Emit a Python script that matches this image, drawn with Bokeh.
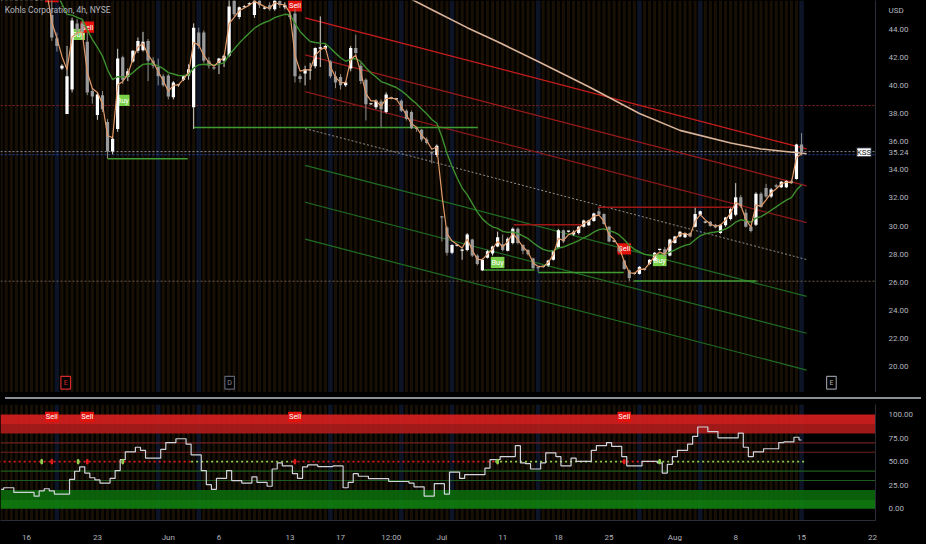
import numpy as np
from bokeh.plotting import figure
from bokeh.models import (Range1d, ColumnDataSource, Label, Div, FixedTicker,
                          PrintfTickFormatter)
from bokeh.layouts import column
from bokeh.embed import file_html
from bokeh.resources import INLINE
from bokeh.core.properties import value

# ---------------- data (4h bars, bar index starts at FIRST_IDX) ----------------
FIRST_IDX = -10
open_ = [48.5, 49.0, 48.6, 48.2, 48.7, 48.1, 47.5, 46.4, 47.1, 46.9,
         45.0, 43.35, 41.2, 37.96, 39.7, 44.4, 44.4, 43.1, 39.6, 37.9,
         39.3, 37.4, 35.3, 36.9, 42.0, 40.6, 41.7, 42.45, 42.5, 43.15,
         41.75, 41.3, 40.65, 40.7, 39.15, 40.0, 40.4, 40.7, 38.45, 43.75,
         43.75, 41.75, 41.25, 41.6, 41.75, 42.1, 46.2, 44.85, 45.55, 45.75,
         45.0, 46.3, 45.45, 45.7, 45.4, 46.0, 45.55, 45.0, 45.1, 40.65,
         40.85, 41.05, 41.35, 42.6, 42.6, 41.7, 40.65, 40.6, 40.0, 41.2,
         42.65, 41.4, 40.4, 38.65, 38.45, 38.85, 38.1, 39.15, 39.0, 38.9,
         38.2, 38.1, 36.95, 36.85, 36.15, 35.25, 35.05, 30.7, 29.9, 28.1,
         28.6, 28.25, 28.3, 29.05, 27.9, 26.85, 27.75, 28.05, 28.55, 28.7,
         28.25, 28.8, 29.8, 28.65, 28.3, 27.7, 27.05, 27.1, 27.2, 27.6,
         28.45, 29.7, 29.6, 29.4, 29.5, 29.95, 30.05, 30.35, 31.05, 30.85,
         29.95, 28.9, 28.5, 27.55, 26.85, 26.6, 26.6, 26.9, 27.3, 27.55,
         28.3, 28.35, 27.9, 28.8, 29.25, 29.2, 29.5, 29.95, 30.8, 30.25,
         30.3, 30.1, 29.5, 30.05, 30.5, 30.8, 32.05, 30.95, 29.95, 30.1,
         32.3, 32.7, 32.1, 32.9, 32.75, 32.75, 33.2, 33.35, 35.8]
high_ = [49.3, 49.8, 49.0, 48.9, 49.1, 48.4, 47.9, 47.3, 47.6, 47.4,
         46.5, 43.75, 41.5, 42.8, 44.8, 44.7, 44.6, 43.75, 39.8, 39.5,
         39.6, 37.6, 36.4, 42.6, 42.1, 41.2, 42.5, 43.4, 43.8, 43.3,
         42.0, 41.9, 40.8, 40.8, 40.3, 40.1, 40.7, 41.5, 44.4, 44.1,
         43.9, 42.0, 41.3, 41.95, 42.2, 46.2, 46.5, 45.6, 45.7, 45.9,
         46.5, 46.5, 45.6, 45.9, 46.4, 46.2, 45.9, 45.3, 45.4, 40.8,
         41.4, 41.6, 42.7, 44.9, 42.9, 41.8, 41.0, 40.8, 40.3, 42.8,
         43.6, 41.6, 40.5, 38.7, 39.0, 39.0, 39.5, 39.2, 39.05, 39.0,
         38.3, 38.2, 37.0, 36.9, 36.3, 35.3, 35.8, 30.7, 30.0, 28.7,
         28.65, 28.4, 29.5, 29.1, 28.0, 27.7, 28.3, 28.6, 29.6, 29.4,
         29.2, 29.9, 29.9, 28.7, 28.35, 27.75, 27.1, 27.15, 27.6, 28.3,
         29.8, 29.75, 29.65, 29.7, 30.0, 30.45, 30.45, 30.95, 31.3, 30.9,
         30.0, 28.95, 28.6, 27.6, 26.9, 26.65, 27.15, 26.95, 27.65, 28.15,
         28.35, 28.5, 29.1, 29.3, 29.65, 29.55, 29.55, 31.3, 31.1, 30.3,
         30.35, 30.15, 30.15, 30.65, 31.3, 33.05, 32.2, 31.2, 30.0, 32.4,
         32.4, 33.0, 32.7, 33.0, 33.2, 33.25, 33.3, 35.85, 36.6]
low_ = [48.0, 48.4, 47.8, 47.6, 47.9, 47.2, 46.8, 46.0, 46.6, 46.3,
        43.16, 42.4, 41.1, 37.96, 39.5, 43.6, 43.6, 39.3, 38.7, 37.55,
        38.1, 34.8, 35.1, 36.7, 40.1, 40.3, 41.6, 42.3, 42.4, 40.3,
        41.2, 40.0, 39.9, 39.0, 39.0, 39.9, 40.3, 40.4, 36.9, 42.6,
        41.6, 41.2, 41.1, 40.8, 41.3, 42.0, 44.9, 44.7, 45.5, 45.7,
        44.8, 45.5, 45.4, 45.3, 45.3, 45.5, 45.4, 44.7, 40.2, 40.2,
        40.0, 40.4, 41.2, 41.3, 42.5, 40.5, 39.8, 39.7, 39.9, 41.0,
        42.0, 40.1, 37.5, 38.6, 38.3, 37.0, 38.0, 39.0, 38.95, 38.1,
        37.5, 36.9, 36.7, 36.0, 35.8, 34.45, 34.9, 28.9, 27.9, 28.0,
        28.55, 27.6, 28.2, 27.8, 27.2, 26.8, 27.7, 27.9, 28.5, 28.2,
        28.2, 28.7, 28.7, 28.0, 27.9, 26.95, 26.75, 27.05, 27.1, 27.55,
        28.4, 28.8, 29.55, 29.3, 29.4, 29.9, 30.0, 30.3, 30.75, 30.1,
        28.85, 28.85, 28.1, 26.9, 26.1, 26.55, 26.55, 26.85, 27.25, 27.5,
        28.25, 27.85, 27.85, 28.75, 29.2, 29.15, 29.2, 29.9, 30.7, 30.2,
        29.95, 29.85, 29.45, 29.95, 30.4, 30.7, 31.3, 29.9, 29.55, 30.0,
        31.3, 32.0, 32.0, 32.7, 32.7, 32.7, 33.0, 33.3, 35.0]
close_ = [49.0, 48.6, 48.2, 48.7, 48.1, 47.5, 47.0, 47.1, 46.9, 46.5,
          43.4, 42.8, 41.4, 40.65, 44.6, 43.9, 43.8, 39.5, 39.2, 39.35,
          38.3, 35.3, 36.2, 41.9, 40.4, 41.0, 42.45, 43.15, 43.1, 41.75,
          41.4, 40.65, 40.0, 39.2, 40.2, 40.05, 40.65, 41.15, 44.1, 42.8,
          41.75, 41.4, 41.2, 41.9, 42.1, 45.6, 45.05, 45.55, 45.6, 45.8,
          46.1, 45.7, 45.5, 45.4, 46.1, 45.7, 45.7, 44.85, 40.65, 40.45,
          41.15, 41.1, 42.65, 42.7, 42.8, 40.65, 40.2, 40.0, 40.2, 42.65,
          42.3, 40.3, 38.65, 38.65, 38.9, 38.3, 39.35, 39.1, 39.0, 38.2,
          37.6, 36.95, 36.9, 36.15, 35.9, 35.15, 35.7, 30.6, 28.1, 28.65,
          28.6, 28.3, 29.4, 27.9, 27.3, 27.6, 28.2, 28.55, 29.2, 28.3,
          29.1, 29.8, 28.8, 28.25, 28.0, 27.0, 27.0, 27.1, 27.55, 28.25,
          29.7, 28.9, 29.6, 29.6, 29.95, 30.4, 30.4, 30.9, 30.8, 30.15,
          28.9, 28.9, 28.2, 26.95, 26.3, 26.6, 27.1, 26.9, 27.6, 28.1,
          28.3, 27.9, 29.05, 29.25, 29.6, 29.5, 29.25, 30.85, 31.05, 30.25,
          30.0, 29.9, 30.1, 30.6, 31.2, 32.05, 31.4, 29.95, 29.65, 32.3,
          31.35, 32.1, 32.6, 32.8, 33.15, 33.2, 33.05, 35.8, 35.24]

# long moving average (read at a few bars)
ma_long_idx = [70, 76, 82, 88, 96, 106, 116, 124, 134, 140, 149]
ma_long_val = [46.3, 45.2, 44.1, 43.1, 41.7, 39.9, 38.0, 36.8, 35.9, 35.48, 35.14]

# regression channel
chan_idx = [50, 149]
chan_mid = [36.93, 27.62]
chan_dev = 2.62

# pivot levels (start bar, end bar, price)
sup_x0 = [11, 28, 85.3, 96, 114.9]
sup_x1 = [26.8, 84.1, 95.3, 112.9, 139.1]
sup_p = [34.79, 37.0, 26.87, 26.7, 26.1]
res_x0 = [91.2, 107.8]
res_x1 = [104.5, 135.5]
res_p = [30.1, 31.34]

# full-width levels
lvl_red = 38.56
lvl_brown = 26.08
last_price = 35.24
usd_level = 45.34

# signals
sig_idx = [-2, 0, 5.2, 7, 14, 48, 88, 113, 120]
sig_type = ["Buy", "Sell", "Buy", "Sell", "Buy", "Sell", "Buy", "Sell", "Buy"]
sig_price = [47.0, 46.3, 43.62, 44.14, 38.93, 45.65, 27.41, 28.38, 27.55]

# events
ev_idx = [2.75, 35.1, 153.9]
ev_txt = ["E", "D", "E"]

# bars with a dark-blue session background
navy_idx = [1, 21, 29, 55, 69, 79, 96, 116, 128, 148]

# oscillator (one value per bar)
osc = [20.6, 22.3, 22.3, 17.3, 17.3, 17.3, 17.3, 13.3, 18.9, 21.2,
       19.0, 15.6, 15.6, 15.6, 31.2, 39.8, 44.5, 37.9, 32.9, 30.6,
       27.3, 27.3, 32.2, 40.5, 52.1, 60.4, 60.4, 65.3, 62.0, 53.7,
       53.7, 53.7, 63.0, 70.3, 70.3, 74.3, 74.3, 68.6, 57.1, 57.1,
       40.5, 25.6, 20.6, 32.2, 32.2, 40.5, 29.9, 29.9, 27.3, 27.3,
       33.9, 27.9, 27.9, 23.9, 42.2, 48.8, 45.5, 45.5, 37.2, 32.2,
       44.5, 46.5, 46.5, 44.8, 44.8, 44.8, 45.5, 45.5, 22.3, 27.9,
       37.2, 34.5, 34.5, 31.9, 31.9, 31.9, 31.9, 28.9, 28.9, 28.9,
       28.9, 27.3, 23.3, 23.3, 13.3, 13.3, 26.6, 26.6, 15.6, 38.8,
       38.8, 32.2, 36.2, 36.2, 36.2, 36.2, 43.1, 52.1, 52.1, 55.4,
       55.4, 55.4, 67.0, 48.8, 47.8, 42.2, 42.2, 48.8, 59.4, 59.4,
       55.4, 45.5, 45.5, 53.7, 50.4, 50.4, 50.4, 62.0, 67.0, 67.0,
       70.3, 66.3, 66.3, 55.4, 45.5, 45.5, 45.5, 50.4, 50.4, 50.4,
       48.8, 37.9, 47.2, 55.4, 62.0, 62.0, 68.6, 76.9, 86.8, 86.8,
       81.9, 81.9, 75.3, 75.3, 75.3, 75.3, 80.2, 65.3, 55.4, 60.4,
       60.4, 63.7, 63.7, 63.7, 70.3, 71.0, 71.0, 75.9, 73.0]
# state of the middle dotted line: (first bar, last bar, state)
mid_runs = [(-10, 27, "sell"), (28, 47, "buy"), (48, 87, "sell"),
            (88, 112, "buy"), (113, 119, "sell"), (120, 148, "buy")]

x_ticks = [-5, 9, 23, 33, 47, 57, 67, 77, 89, 100, 110, 123, 135, 148, 162]
x_labels = ["16", "23", "Jun", "6", "13", "17", "12:00", "Jul", "11", "18",
            "25", "Aug", "8", "15", "22"]
price_ticks = [20, 22, 24, 26, 28, 30, 32, 34, 36, 38, 40, 42, 44]
osc_ticks = [0, 25, 50, 75, 100]

# ---------------- derived ----------------
n = len(close_)
idx = np.arange(FIRST_IDX, FIRST_IDX + n)
assert len(open_) == n and len(high_) == n and len(low_) == n and len(osc) == n


def ema(vals, length):
    a = 2.0 / (length + 1)
    out, e = [], vals[0]
    for v in vals:
        e = e + a * (v - e)
        out.append(e)
    return out


ema_fast = ema(close_, 2)
ema_slow = ema(close_, 13)

X0, X1 = -10.13, 162.6
Y0, Y1 = 18.17, 46.03
FONT = "Roboto"
AX_COL = "#b2b5be"
W = 916
MAIN_H = 392
OSC_H = 140
STRIPE = "#181005"
NAVY = "#0c1426"
UP = "#ffffff"
DOWN = "#9a9a9a"


def style(p):
    p.background_fill_color = "#000000"
    p.border_fill_color = "#000000"
    p.outline_line_color = None
    p.grid.visible = False
    p.min_border_left = 0
    p.min_border_top = 0
    p.min_border_right = 33
    ax = p.yaxis[0]
    ax.major_label_text_color = AX_COL
    ax.major_label_text_font = FONT
    ax.major_label_text_font_size = "8px"
    ax.axis_line_color = "#2a2e39"
    ax.major_tick_line_color = None
    ax.minor_tick_line_color = None
    ax.major_label_standoff = 7
    ax.formatter = PrintfTickFormatter(format="%.2f")


def stripes(p, lo, hi):
    p.vbar(x=idx, width=0.6, bottom=lo, top=hi, color=STRIPE, line_color=None)
    p.vbar(x=navy_idx, width=0.9, bottom=lo, top=hi, color=NAVY, line_color=None)


# ---------------- main price panel ----------------
p = figure(width=W, height=MAIN_H, x_range=Range1d(X0, X1),
           y_range=Range1d(Y0, Y1), y_axis_location="right",
           toolbar_location=None, output_backend="svg", tools="")
style(p)
p.xaxis.visible = False
p.min_border_bottom = 0
p.yaxis[0].ticker = FixedTicker(ticks=price_ticks + [last_price, usd_level])
p.yaxis[0].major_label_overrides = {last_price: "35.24", usd_level: "USD"}
stripes(p, 10, 60)

# full width dotted levels
p.line([X0, X1], [lvl_red, lvl_red], line_color="#8f2626", line_dash="2 2", line_width=1)
p.line([X0, X1], [lvl_brown, lvl_brown], line_color="#6e5b4c", line_dash="2 2", line_width=1)
p.line([X0, X1], [last_price + 0.05, last_price + 0.05], line_color="#8c8f99", line_dash="2 2", line_width=1)
p.line([X0, X1], [last_price - 0.17, last_price - 0.17], line_color="#2949a8", line_dash="2 2", line_width=1)

# regression channel
chan_cols = ["#cc1d1d", "#9c1a1a", "#8a1919", None, "#1f6e22", "#1f6e22", "#1f6e22"]
for k, col in zip([3, 2, 1, 0, -1, -2, -3], chan_cols):
    ys = [m + k * chan_dev for m in chan_mid]
    if k == 0:
        p.line(chan_idx, ys, line_color="#8f8f8f", line_dash="2 2", line_width=1)
    else:
        p.line(chan_idx, ys, line_color=col, line_width=1.2)

# pivot level segments
p.segment(x0=sup_x0, x1=sup_x1, y0=sup_p, y1=sup_p, line_color="#3f9b33", line_width=1.5)
p.segment(x0=res_x0, x1=res_x1, y0=res_p, y1=res_p, line_color="#a01616", line_width=1.5)

# buy / sell labels (text only where the tag lies inside the view)
lab_col = ["#7bd04a" if t == "Buy" else "#e3120b" for t in sig_type]
p.rect(x=sig_idx, y=sig_price, width=2.7, height=0.8, fill_color=lab_col, line_color=None)
vis = [i for i, y in enumerate(sig_price) if y + 0.3 < Y1]
p.text(x=[sig_idx[i] for i in vis], y=[sig_price[i] for i in vis],
       text=[sig_type[i] for i in vis], text_align="center", text_baseline="middle",
       text_color="#ffffff", text_font=value(FONT), text_font_size="7.5px")

# candles
dirs = [c >= o for o, c in zip(open_, close_)]
cols = [UP if d else DOWN for d in dirs]
wcols = ["#cfcfcf" if d else "#8a8a8a" for d in dirs]
tops = [max(o, c) for o, c in zip(open_, close_)]
bots = [min(o, c) for o, c in zip(open_, close_)]
tops = [t if t - b >= 0.08 else b + 0.08 for t, b in zip(tops, bots)]
csrc = ColumnDataSource(dict(x=idx, h=high_, l=low_, t=tops, b=bots, c=cols, w=wcols))
p.segment(x0="x", x1="x", y0="l", y1="h", line_color="w", line_width=1, source=csrc)
p.vbar(x="x", width=0.64, top="t", bottom="b", fill_color="c", line_color=None, source=csrc)

# moving averages
p.line(idx, ema_slow, line_color="#3c8f2e", line_width=1.4)
p.line(idx, ema_fast, line_color="#e09a6a", line_width=1.2)
p.line(ma_long_idx, ma_long_val, line_color="#d9b39a", line_width=1.6)

# events
p.rect(x=ev_idx, y=[18.86] * 3, width=1.9, height=0.9, fill_color="#000000",
       line_color=["#d42a2a", "#5d6270", "#8d9099"], line_width=1.2)
p.text(x=ev_idx, y=[18.86] * 3, text=ev_txt, text_align="center", text_baseline="middle",
       text_color=["#d42a2a", "#8d9099", "#b2b5be"], text_font=value(FONT), text_font_size="7px")

# texts
p.add_layout(Label(x=-9.3, y=45.34, text="Kohls Corporation, 4h, NYSE", text_color=AX_COL,
                   text_font=FONT, text_font_size="8.5px", text_baseline="middle"))
p.add_layout(Label(x=158.9, y=last_price, text="KSS", text_color="#131722",
                   background_fill_color="#ffffff", text_font=FONT, text_font_size="8px",
                   text_baseline="middle", border_line_color="#131722"))

# ---------------- oscillator panel ----------------
q = figure(width=W, height=OSC_H, x_range=p.x_range, y_range=Range1d(-12.5, 110.7),
           y_axis_location="right", toolbar_location=None, output_backend="svg", tools="")
style(q)
q.min_border_bottom = 20
q.yaxis[0].ticker = FixedTicker(ticks=osc_ticks)
xa = q.xaxis[0]
xa.ticker = FixedTicker(ticks=x_ticks)
xa.major_label_overrides = {t: s for t, s in zip(x_ticks, x_labels)}
xa.major_label_text_color = AX_COL
xa.major_label_text_font = FONT
xa.major_label_text_font_size = "8px"
xa.axis_line_color = "#2a2e39"
xa.major_tick_line_color = None
xa.minor_tick_line_color = None
xa.major_label_standoff = 6
stripes(q, -20, 120)

q.quad(left=X0, right=X1, bottom=90, top=100, fill_color="#d81f1f", fill_alpha=0.9, line_color=None)
q.quad(left=X0, right=X1, bottom=80, top=90, fill_color="#b01c1c", fill_alpha=0.9, line_color=None)
q.quad(left=X0, right=X1, bottom=10, top=20, fill_color="#0b6a0b", fill_alpha=0.9, line_color=None)
q.quad(left=X0, right=X1, bottom=0, top=10, fill_color="#0f7f0f", fill_alpha=0.9, line_color=None)
for lv, col in [(70, "#6e2020"), (60, "#6e2020"), (40, "#1d5c1d"), (30, "#1d5c1d")]:
    q.line([X0, X1], [lv, lv], line_color=col, line_width=1.2)

for a, b, st in mid_runs:
    q.line([a - 0.5, b + 0.5], [50, 50], line_color="#e01b1b" if st == "sell" else "#8fd14f",
           line_dash="2 3", line_width=1.6)

q.step(idx, osc, mode="center", line_color="#d1d4dc", line_width=1.2)

dot_col = ["#8fd14f" if t == "Buy" else "#e01b1b" for t in sig_type]
q.ellipse(x=sig_idx, y=[50] * len(sig_idx), width=0.6, height=6, fill_color=dot_col, line_color=None)
sell_i = [i for i, t in zip(sig_idx, sig_type) if t == "Sell"]
q.rect(x=sell_i, y=[97.5] * len(sell_i), width=2.7, height=11, fill_color="#e3120b", line_color=None)
q.text(x=sell_i, y=[97.5] * len(sell_i), text=["Sell"] * len(sell_i), text_align="center",
       text_baseline="middle", text_color="#ffffff", text_font=value(FONT), text_font_size="7.5px")

sep = Div(text="", width=W, height=2, styles={"background-color": "#8b8e96"})
layout = column(p, sep, q, spacing=0, styles={"background-color": "#000000"})

open("out.html", "w").write(file_html(layout, INLINE))
